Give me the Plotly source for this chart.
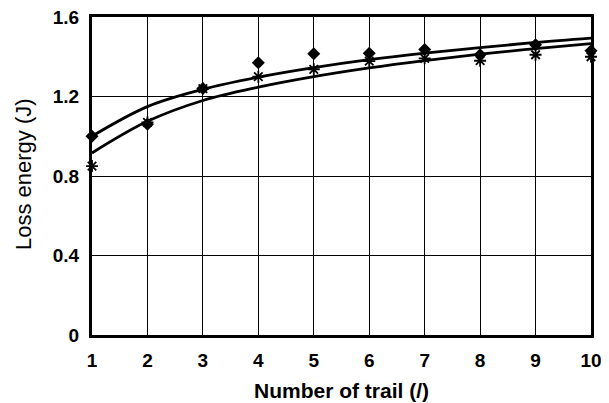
import plotly.graph_objects as go

trials = [1, 2, 3, 4, 5, 6, 7, 8, 9, 10]
diamond_vals = [1.00, 1.06, 1.24, 1.37, 1.415, 1.418, 1.437, 1.41, 1.46, 1.43]
star_vals = [0.85, 1.07, 1.24, 1.30, 1.337, 1.378, 1.392, 1.38, 1.41, 1.40]
upper_curve = [1.00, 1.149, 1.236, 1.297, 1.345, 1.385, 1.418, 1.446, 1.472, 1.494]
lower_curve = [0.916, 1.075, 1.18, 1.247, 1.30, 1.344, 1.381, 1.413, 1.441, 1.466]

y_tickvals = [0, 0.4, 0.8, 1.2, 1.6]
y_ticktext = ["<b>0</b>", "<b>0.4</b>", "<b>0.8</b>", "<b>1.2</b>", "<b>1.6</b>"]
x_tickvals = trials
x_ticktext = ["<b>%d</b>" % t for t in trials]
x_title = "<b>Number of trail (/)</b>"
y_title = "Loss energy (J)"

fig = go.Figure()
fig.add_trace(go.Scatter(x=trials, y=upper_curve, mode="lines", line=dict(color="black", width=2.8, shape="spline"),
                         cliponaxis=False, showlegend=False))
fig.add_trace(go.Scatter(x=trials, y=lower_curve, mode="lines", line=dict(color="black", width=2.8, shape="spline"),
                         cliponaxis=False, showlegend=False))
fig.add_trace(go.Scatter(x=trials, y=star_vals, mode="markers",
                         marker=dict(symbol="asterisk-open", size=10, color="black", line=dict(color="black", width=1.8)),
                         cliponaxis=False, showlegend=False))
fig.add_trace(go.Scatter(x=trials, y=diamond_vals, mode="markers",
                         marker=dict(symbol="diamond", size=10, color="black"),
                         cliponaxis=False, showlegend=False))

font_family = "Liberation Sans, Arial, sans-serif"
fig.update_layout(
    width=609, height=403,
    margin=dict(l=84, r=26, t=9, b=76, autoexpand=False),
    paper_bgcolor="white", plot_bgcolor="white",
    font=dict(family=font_family, color="black", size=19),
    xaxis=dict(range=[1, 10], tickvals=x_tickvals, ticktext=x_ticktext,
               showgrid=True, gridcolor="black", gridwidth=1,
               showline=True, linecolor="black", linewidth=3, mirror=True,
               ticks="", zeroline=False, ticklabelstandoff=6, automargin=False,
               ticklabeloverflow="allow",
               tickfont=dict(size=19, family=font_family)),
    yaxis=dict(range=[0, 1.6], tickvals=y_tickvals, ticktext=y_ticktext,
               showgrid=True, gridcolor="black", gridwidth=1,
               showline=True, linecolor="black", linewidth=3, mirror=True,
               ticks="", zeroline=False, ticklabelstandoff=6, automargin=False,
               ticklabeloverflow="allow",
               tickfont=dict(size=19, family=font_family)),
    annotations=[
        dict(text=x_title, xref="paper", yref="paper", x=0.5, y=0, xanchor="center", yanchor="middle",
             yshift=-55, showarrow=False, font=dict(size=21, family=font_family)),
        dict(text=y_title, xref="paper", yref="paper", x=0, y=0.5, xanchor="center", yanchor="middle",
             xshift=-69, yshift=2, textangle=-90, showarrow=False, font=dict(size=22, family=font_family)),
    ],
)
fig.write_html("out.html")
